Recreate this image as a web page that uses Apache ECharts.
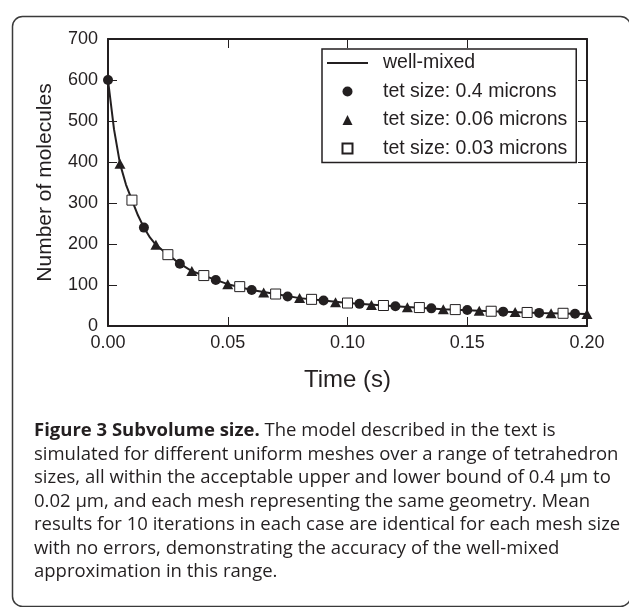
<!DOCTYPE html>
<html>
<head>
<meta charset="utf-8">
<script src="https://cdn.jsdelivr.net/npm/echarts@6/dist/echarts.min.js"></script>
<style>
html,body{margin:0;padding:0;background:#fff;}
#chart{width:629px;height:607px;}
</style>
</head>
<body>
<div id="chart"></div>
<script>
// ---- data ----
var xTicks = [0, 0.05, 0.10, 0.15, 0.20];
var yTicks = [0, 100, 200, 300, 400, 500, 600, 700];

var seriesNames = ['well-mixed', 'tet size: 0.4 microns', 'tet size: 0.06 microns', 'tet size: 0.03 microns'];

var tWell = [0, 0.0025, 0.005, 0.0075, 0.01, 0.0125, 0.015, 0.0175, 0.02, 0.025, 0.03, 0.035, 0.04, 0.05, 0.06, 0.07, 0.08, 0.09, 0.10, 0.12, 0.14, 0.16, 0.18, 0.20];
var nWell = [600, 480, 396, 345, 307, 270, 240, 216, 198, 174, 152, 134, 123, 102, 88, 78, 68, 62, 56, 48, 41, 36, 32, 29];

var tCircle = [0, 0.015, 0.03, 0.045, 0.06, 0.075, 0.09, 0.105, 0.12, 0.135, 0.15, 0.165, 0.18, 0.195];
var nCircle = [600, 240, 152, 112, 88, 72, 62, 54, 48, 43, 39, 35, 32, 30];

var tTri = [0.005, 0.02, 0.035, 0.05, 0.065, 0.08, 0.095, 0.11, 0.125, 0.14, 0.155, 0.17, 0.185, 0.20];
var nTri = [396, 198, 134, 102, 82, 68, 58, 51, 46, 41, 37, 34, 31, 29];

var tSq = [0.01, 0.025, 0.04, 0.055, 0.07, 0.085, 0.10, 0.115, 0.13, 0.145, 0.16, 0.175, 0.19];
var nSq = [307, 174, 123, 96, 78, 65, 56, 50, 45, 40, 36, 33, 31];

var xTitle = 'Time (s)';
var yTitle = 'Number of molecules';
var captionBold = 'Figure 3 Subvolume size.';
var captionLines = [
  ' The model described in the text is',
  'simulated for different uniform meshes over a range of tetrahedron',
  'sizes, all within the acceptable upper and lower bound of 0.4 \u00b5m to',
  '0.02 \u00b5m, and each mesh representing the same geometry. Mean',
  'results for 10 iterations in each case are identical for each mesh size',
  'with no errors, demonstrating the accuracy of the well-mixed',
  'approximation in this range.'
];

function zip(a, b) { return a.map(function (v, i) { return [v, b[i]]; }); }

var INK = '#231f20';
var FONT = '"Liberation Sans", Arial, Helvetica, sans-serif';
var CAPFONT = '"Open Sans", "Noto Sans", sans-serif';

var chart = echarts.init(document.getElementById('chart'), null, {renderer: 'canvas'});

function xAxisBase(extra) {
  var a = {
    type: 'value', min: xTicks[0], max: xTicks[xTicks.length - 1], interval: xTicks[1] - xTicks[0],
    axisLine: {show: true, onZero: false, lineStyle: {color: INK, width: 2}},
    axisTick: {show: true, inside: true, length: 9, lineStyle: {color: INK, width: 1}},
    splitLine: {show: false},
    axisLabel: {show: false}
  };
  for (var k in extra) a[k] = extra[k];
  return a;
}
function yAxisBase(extra) {
  var a = {
    type: 'value', min: yTicks[0], max: yTicks[yTicks.length - 1], interval: yTicks[1] - yTicks[0],
    axisLine: {show: true, onZero: false, lineStyle: {color: INK, width: 2}},
    axisTick: {show: true, inside: true, length: 9, lineStyle: {color: INK, width: 1}},
    splitLine: {show: false},
    axisLabel: {show: false}
  };
  for (var k in extra) a[k] = extra[k];
  return a;
}

var captionText = '{b|' + captionBold + '}' + captionLines.join('\n');

var option = {
  animation: false,
  backgroundColor: '#ffffff',
  grid: {left: 108, right: 42, top: 39, bottom: 281, containLabel: false},
  xAxis: [
    xAxisBase({
      position: 'bottom',
      axisLabel: {show: true, color: INK, fontSize: 18, fontFamily: FONT, margin: 8,
        formatter: function (v) { return v.toFixed(2); }},
      name: xTitle, nameLocation: 'middle', nameGap: 42,
      nameTextStyle: {color: INK, fontSize: 24, fontFamily: FONT}
    }),
    xAxisBase({position: 'top'})
  ],
  yAxis: [
    yAxisBase({
      position: 'left',
      axisLabel: {show: true, color: INK, fontSize: 18, fontFamily: FONT, margin: 10},
      name: yTitle, nameLocation: 'middle', nameGap: 52, nameRotate: 90,
      nameTextStyle: {color: INK, fontSize: 21, fontFamily: FONT}
    }),
    yAxisBase({position: 'right'})
  ],
  legend: {
    orient: 'vertical', left: 322, top: 49,
    selectedMode: false,
    itemWidth: 41, itemHeight: 10, itemGap: 8.5,
    padding: [4, 9, 4, 5],
    borderColor: INK, borderWidth: 1.5, borderRadius: 0,
    backgroundColor: '#ffffff',
    textStyle: {color: INK, fontSize: 19.5, fontFamily: FONT, padding: [0, 0, 0, 10]},
    data: [
      {name: seriesNames[0], icon: 'path://M0,0H41V2H0Z'},
      {name: seriesNames[1], icon: 'circle'},
      {name: seriesNames[2], icon: 'path://M5,0L10,10L0,10Z'},
      {name: seriesNames[3], icon: 'path://M0,0H10V10H0Z'}
    ]
  },
  series: [
    {
      name: seriesNames[0], type: 'line', data: zip(tWell, nWell),
      symbol: 'none', smooth: false,
      lineStyle: {color: INK, width: 2}, itemStyle: {color: INK}, z: 2
    },
    {
      name: seriesNames[1], type: 'scatter', data: zip(tCircle, nCircle),
      symbol: 'circle', symbolSize: 10,
      itemStyle: {color: INK, opacity: 1}, z: 3
    },
    {
      name: seriesNames[2], type: 'scatter', data: zip(tTri, nTri),
      symbol: 'triangle', symbolSize: [11, 10],
      itemStyle: {color: INK, opacity: 1}, z: 3
    },
    {
      name: seriesNames[3], type: 'scatter', data: zip(tSq, nSq),
      symbol: 'rect', symbolSize: 10,
      itemStyle: {color: '#ffffff', borderColor: INK, borderWidth: 1, opacity: 1}, z: 3
    }
  ],
  graphic: [
    {
      type: 'rect', left: 10, top: 14, z: -10,
      shape: {width: 618, height: 590, r: 10},
      style: {fill: 'none', stroke: '#3a3a3a', lineWidth: 1.5}
    },
    {
      type: 'text', left: 34, top: 419, z: 10,
      style: {
        text: captionText,
        fill: INK, fontSize: 18.5, fontFamily: CAPFONT, lineHeight: 23.5,
        rich: {b: {fontWeight: 'bold', fontSize: 18.5, fontFamily: CAPFONT, lineHeight: 23.5, fill: INK}}
      }
    }
  ]
};
chart.setOption(option);
</script>
</body>
</html>
